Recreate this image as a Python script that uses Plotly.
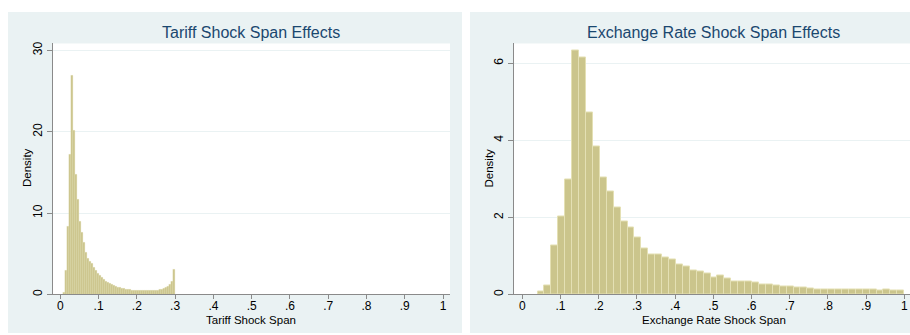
import plotly.graph_objects as go

# ---------------- data ----------------
tariff_bin_start = 0.0078
tariff_bin_width = 0.00522
tariff_density = [
    0.3, 3.0, 8.4, 17.2, 26.9, 20.2, 14.7, 11.7, 9.0, 7.6,
    6.4, 5.2, 4.4, 4.1, 3.8, 3.3, 2.95, 2.6, 2.3, 2.05,
    1.85, 1.65, 1.5, 1.35, 1.2, 1.08, 0.98, 0.9, 0.82, 0.75,
    0.68, 0.63, 0.6, 0.57, 0.54, 0.52, 0.5, 0.49, 0.48, 0.47,
    0.46, 0.46, 0.46, 0.46, 0.47, 0.48, 0.5, 0.53, 0.57, 0.62,
    0.7, 0.8, 0.95, 1.2, 1.65, 3.1,
]

fx_bin_start = 0.04
fx_bin_width = 0.01811
fx_density = [
    0.07, 0.22, 1.26, 2.03, 2.99, 6.33, 6.14, 4.73, 3.85, 3.03,
    2.66, 2.25, 1.88, 1.74, 1.48, 1.2, 1.03, 1.03, 0.95, 0.9,
    0.78, 0.73, 0.61, 0.6, 0.54, 0.45, 0.48, 0.41, 0.34, 0.34,
    0.34, 0.3, 0.27, 0.27, 0.22, 0.21, 0.21, 0.17, 0.17, 0.16,
    0.14, 0.14, 0.14, 0.13, 0.12, 0.12, 0.13, 0.13, 0.12, 0.11,
    0.12, 0.1, 0.11,
]

x_tick_vals = [0, 0.1, 0.2, 0.3, 0.4, 0.5, 0.6, 0.7, 0.8, 0.9, 1.0]
x_tick_text = ["0", ".1", ".2", ".3", ".4", ".5", ".6", ".7", ".8", ".9", "1"]
tariff_y_ticks = [0, 10, 20, 30]
fx_y_ticks = [0, 2, 4, 6]

titles = ["Tariff Shock Span Effects", "Exchange Rate Shock Span Effects"]
x_titles = ["Tariff Shock Span", "Exchange Rate Shock Span"]
y_title = "Density"

# ---------------- styling ----------------
W, H = 910, 335
FONT = "Liberation Sans, Arial, Helvetica, sans-serif"
BG = "#eaf2f3"
BAR_FILL = "#cbc58c"
BAR_LINE = "#e4e0b4"
AXIS = "#8a8a8a"
TITLE_C = "#1a476f"


def px_x(p):
    return p / W


def px_y(p):
    return (H - p) / H


def centers(start, width, n):
    return [start + (i + 0.5) * width for i in range(n)]


fig = go.Figure()

fig.add_trace(go.Bar(
    x=centers(tariff_bin_start, tariff_bin_width, len(tariff_density)),
    y=tariff_density, width=tariff_bin_width,
    marker=dict(color=BAR_FILL, line=dict(color=BAR_LINE, width=0.3)),
    xaxis="x", yaxis="y", showlegend=False, hoverinfo="x+y",
))
fig.add_trace(go.Bar(
    x=centers(fx_bin_start, fx_bin_width, len(fx_density)),
    y=fx_density, width=fx_bin_width,
    marker=dict(color=BAR_FILL, line=dict(color=BAR_LINE, width=1)),
    xaxis="x2", yaxis="y2", showlegend=False, hoverinfo="x+y",
))

common_x = dict(
    tickmode="array", tickvals=x_tick_vals, ticktext=x_tick_text,
    ticks="outside", ticklen=4, tickcolor=AXIS, tickwidth=1,
    showline=True, linecolor=AXIS, linewidth=1,
    showgrid=False, zeroline=False, ticklabelstandoff=-4,
    tickfont=dict(family=FONT, size=12, color="#000000"),
)
common_y = dict(
    ticks="outside", ticklen=5, tickcolor=AXIS, tickwidth=1,
    showline=True, linecolor=AXIS, linewidth=1,
    showgrid=True, gridcolor=BG, gridwidth=1, zeroline=False,
    tickangle=-90, tickmode="array",
    tickfont=dict(family=FONT, size=12, color="#000000"),
)

fig.update_layout(
    width=W, height=H,
    margin=dict(l=0, r=0, t=0, b=0),
    paper_bgcolor="white",
    plot_bgcolor="rgba(0,0,0,0)",
    bargap=0,
    xaxis=dict(domain=[px_x(53), px_x(450)], range=[-0.0191, 1.0183],
               anchor="y", **common_x),
    yaxis=dict(domain=[px_y(296), px_y(42)], range=[0, 30.85],
               anchor="x", tickvals=tariff_y_ticks,
               ticktext=[str(v) for v in tariff_y_ticks], **common_y),
    xaxis2=dict(domain=[px_x(514), px_x(910)], range=[-0.0217, 1.0149],
                anchor="y2", **common_x),
    yaxis2=dict(domain=[px_y(296), px_y(42)], range=[0, 6.51],
                anchor="x2", tickvals=fx_y_ticks,
                ticktext=[str(v) for v in fx_y_ticks], **common_y),
    shapes=[
        dict(type="rect", xref="paper", yref="paper", layer="below",
             x0=px_x(8), x1=px_x(462), y0=0, y1=px_y(10),
             fillcolor=BG, line=dict(width=0)),
        dict(type="rect", xref="paper", yref="paper", layer="below",
             x0=px_x(470), x1=1, y0=0, y1=px_y(10),
             fillcolor=BG, line=dict(width=0)),
        dict(type="rect", xref="paper", yref="paper", layer="below",
             x0=px_x(53), x1=px_x(450), y0=px_y(296), y1=px_y(42),
             fillcolor="white", line=dict(width=0)),
        dict(type="rect", xref="paper", yref="paper", layer="below",
             x0=px_x(514), x1=1, y0=px_y(296), y1=px_y(42),
             fillcolor="white", line=dict(width=0)),
    ],
)

annos = []
for cx, t in zip([251, 713.5], titles):
    annos.append(dict(x=px_x(cx), y=px_y(31), xref="paper", yref="paper",
                      text=t, showarrow=False, xanchor="center", yanchor="middle",
                      font=dict(family=FONT, size=16, color=TITLE_C)))
for cx, t in zip([251, 713.5], x_titles):
    annos.append(dict(x=px_x(cx), y=px_y(321.5), xref="paper", yref="paper",
                      text=t, showarrow=False, xanchor="center", yanchor="middle",
                      font=dict(family=FONT, size=11.5, color="#000000")))
for cx in [27, 488.5]:
    annos.append(dict(x=px_x(cx), y=px_y(168), xref="paper", yref="paper",
                      text=y_title, showarrow=False, textangle=-90,
                      xanchor="center", yanchor="middle",
                      font=dict(family=FONT, size=11.5, color="#000000")))
fig.update_layout(annotations=annos)

fig.write_html(
    "out.html",
    config={"displayModeBar": False},
    post_script="document.body.style.margin='0';document.body.style.overflow='hidden';",
)
